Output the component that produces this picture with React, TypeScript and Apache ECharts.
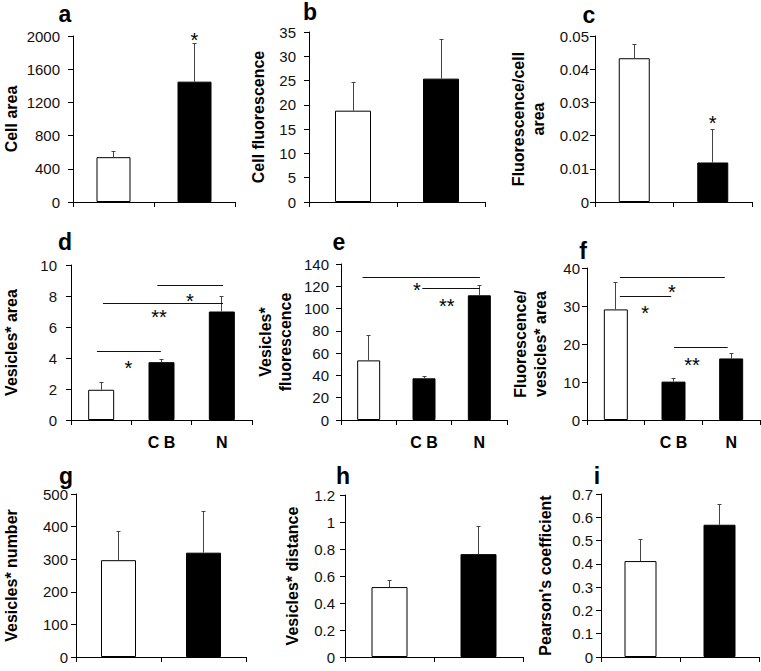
import React, { useEffect, useRef } from "react";
import * as echarts from "echarts";

// ---------- data ----------
const panelLetters = ["a", "b", "c", "d", "e", "f", "g", "h", "i"];
const yAxisNames = [
  "Cell area",
  "Cell fluorescence",
  "Fluorescence/cell\narea",
  "Vesicles* area",
  "Vesicles*\nfluorescence",
  "Fluorescence/\nvesicles* area",
  "Vesicles* number",
  "Vesicles* distance",
  "Pearson's coefficient",
];
const twoGroups = ["", ""];
const threeGroups = ["", "C B", "N"];

const cellAreaMean = [540, 1450];
const cellAreaSd = [65, 460];
const cellFluorMean = [18.8, 25.4];
const cellFluorSd = [5.8, 8.0];
const fluorPerAreaMean = [0.0433, 0.0119];
const fluorPerAreaSd = [0.004, 0.01];
const vesAreaMean = [1.95, 3.73, 7.0];
const vesAreaSd = [0.47, 0.2, 0.95];
const vesFluorMean = [53.5, 37.4, 111.9];
const vesFluorSd = [21.9, 1.8, 9.0];
const fluorPerVesAreaMean = [29.1, 10.1, 16.2];
const fluorPerVesAreaSd = [7.2, 0.95, 1.3];
const vesNumberMean = [297, 320];
const vesNumberSd = [87, 126];
const vesDistanceMean = [0.518, 0.762];
const vesDistanceSd = [0.052, 0.204];
const pearsonMean = [0.412, 0.568];
const pearsonSd = [0.094, 0.089];

const yMax = [2000, 35, 0.05, 10, 140, 40, 500, 1.2, 0.7];
const yInterval = [400, 5, 0.01, 2, 20, 10, 100, 0.2, 0.1];

// significance brackets: [fromCategory, toCategory, y]
const sigLinesD = [[-0.07, 0.99, 4.4], [0.03, 2.02, 7.5], [0.93, 2.02, 8.65]];
const sigLinesE = [[-0.11, 2.01, 128.3], [0.97, 2.01, 117.9]];
const sigLinesF = [[0.07, 1.89, 37.5], [0.07, 0.96, 32.4], [1.01, 1.94, 18.95]];
// significance marks: [category, y, text]
const sigMarksA: [number, number, string][] = [[1, 2016, "*"]];
const sigMarksC: [number, number, string][] = [[1, 0.0253, "*"]];
const sigMarksD: [number, number, string][] = [[0.45, 3.7, "*"], [0.96, 7.0, "**"], [1.47, 8.0, "*"]];
const sigMarksE: [number, number, string][] = [[0.87, 120.8, "*"], [1.41, 107, "**"]];
const sigMarksF: [number, number, string][] = [[0.97, 34.9, "*"], [0.51, 29.6, "*"], [1.32, 15.9, "**"]];

const panels = [
  { cats: twoGroups, mean: cellAreaMean, sd: cellAreaSd, lines: [], marks: sigMarksA },
  { cats: twoGroups, mean: cellFluorMean, sd: cellFluorSd, lines: [], marks: [] },
  { cats: twoGroups, mean: fluorPerAreaMean, sd: fluorPerAreaSd, lines: [], marks: sigMarksC },
  { cats: threeGroups, mean: vesAreaMean, sd: vesAreaSd, lines: sigLinesD, marks: sigMarksD },
  { cats: threeGroups, mean: vesFluorMean, sd: vesFluorSd, lines: sigLinesE, marks: sigMarksE },
  { cats: threeGroups, mean: fluorPerVesAreaMean, sd: fluorPerVesAreaSd, lines: sigLinesF, marks: sigMarksF },
  { cats: twoGroups, mean: vesNumberMean, sd: vesNumberSd, lines: [], marks: [] },
  { cats: twoGroups, mean: vesDistanceMean, sd: vesDistanceSd, lines: [], marks: [] },
  { cats: twoGroups, mean: pearsonMean, sd: pearsonSd, lines: [], marks: [] },
];

// ---------- layout ----------
const layouts = [
  { left: 65, top: 36, width: 170, height: 166, barWidth: 34, labelMargin: 13, nameGap: 52, letter: [65, 20] },
  { left: 309, top: 32, width: 176, height: 170, barWidth: 36, labelMargin: 13, nameGap: 41, letter: [310, 18] },
  { left: 595, top: 36, width: 157, height: 166, barWidth: 31, labelMargin: 6, nameGap: 47, letter: [589, 21] },
  { left: 63, top: 265, width: 189, height: 155, barWidth: 26, labelMargin: 14, nameGap: 50, letter: [65, 248] },
  { left: 341, top: 264, width: 166, height: 156, barWidth: 23, labelMargin: 12, nameGap: 46, letter: [339, 248] },
  { left: 587, top: 268, width: 173, height: 152, barWidth: 24, labelMargin: 7, nameGap: 37, letter: [583, 257] },
  { left: 69, top: 494, width: 177, height: 171, barWidth: 35, labelMargin: 8, nameGap: 55, letter: [66, 482] },
  { left: 345, top: 495, width: 178, height: 171, barWidth: 36, labelMargin: 10, nameGap: 43, letter: [343, 482] },
  { left: 601, top: 494, width: 158, height: 170, barWidth: 32, labelMargin: 8, nameGap: 46, letter: [597, 482] },
];

const FONT = "'Liberation Sans', Arial, Helvetica, sans-serif";
const crisp = (v: number) => Math.round(v - 0.5) + 0.5;
const fmt = (v: number) => String(parseFloat(Number(v).toPrecision(10)));

function buildOption() {
  const grid: any[] = [];
  const xAxis: any[] = [];
  const yAxis: any[] = [];
  const series: any[] = [];
  const graphic: any[] = [];

  panels.forEach((p, i) => {
    const L = layouts[i];
    const n = p.cats.length;
    grid.push({ left: L.left, top: L.top, width: L.width, height: L.height });
    xAxis.push({
      type: "category",
      gridIndex: i,
      data: p.cats,
      axisLine: { onZero: false, lineStyle: { color: "#000", width: 1 } },
      axisTick: { show: true, length: 5, lineStyle: { color: "#000" } },
      axisLabel: {
        show: true,
        interval: 0,
        margin: 14,
        fontFamily: FONT,
        fontSize: 16,
        fontWeight: "bold",
        color: "#000",
      },
      splitLine: { show: false },
    });
    xAxis.push({
      type: "value",
      gridIndex: i,
      show: false,
      min: -0.5,
      max: n - 0.5,
      axisLine: { onZero: false },
    });
    yAxis.push({
      type: "value",
      gridIndex: i,
      min: 0,
      max: yMax[i],
      interval: yInterval[i],
      name: yAxisNames[i],
      nameLocation: "middle",
      nameGap: L.nameGap,
      nameTextStyle: {
        fontFamily: FONT,
        fontSize: 16,
        fontWeight: "bold",
        color: "#000",
        lineHeight: 20,
        align: "center",
      },
      axisLine: { show: true, onZero: false, lineStyle: { color: "#000", width: 1 } },
      axisTick: { show: true, length: 5, lineStyle: { color: "#000" } },
      axisLabel: {
        margin: L.labelMargin,
        fontFamily: FONT,
        fontSize: 15,
        color: "#111",
        formatter: fmt,
      },
      splitLine: { show: false },
    });

    series.push({
      type: "bar",
      xAxisIndex: 2 * i,
      yAxisIndex: i,
      barWidth: L.barWidth,
      silent: true,
      data: p.mean.map((m, j) => ({
        value: m,
        itemStyle: { color: j === 0 ? "#fff" : "#000", borderColor: "#000", borderWidth: 1 },
      })),
    });

    // error bars
    series.push({
      type: "custom",
      xAxisIndex: 2 * i + 1,
      yAxisIndex: i,
      silent: true,
      z: 5,
      encode: { x: 0, y: [1, 2] },
      data: p.mean.map((m, j) => [j, m, m + p.sd[j]]),
      renderItem: (_params: any, api: any) => {
        const x = api.value(0);
        const p0 = api.coord([x, api.value(1)]);
        const p1 = api.coord([x, api.value(2)]);
        const cx = crisp(p0[0]);
        const ty = crisp(p1[1]);
        return {
          type: "group",
          children: [
            { type: "line", shape: { x1: cx, y1: p0[1], x2: cx, y2: ty }, style: { stroke: "#444", lineWidth: 1 } },
            { type: "line", shape: { x1: cx - 2, y1: ty, x2: cx + 2, y2: ty }, style: { stroke: "#444", lineWidth: 1 } },
          ],
        };
      },
    });

    if (p.lines.length) {
      series.push({
        type: "custom",
        xAxisIndex: 2 * i + 1,
        yAxisIndex: i,
        silent: true,
        z: 5,
        encode: { x: [0, 1], y: 2 },
        data: p.lines,
        renderItem: (_params: any, api: any) => {
          const a = api.coord([api.value(0), api.value(2)]);
          const b = api.coord([api.value(1), api.value(2)]);
          const y = crisp(a[1]);
          return { type: "line", shape: { x1: a[0], y1: y, x2: b[0], y2: y }, style: { stroke: "#111", lineWidth: 1 } };
        },
      });
    }

    if (p.marks.length) {
      const marks = p.marks;
      series.push({
        type: "custom",
        xAxisIndex: 2 * i + 1,
        yAxisIndex: i,
        silent: true,
        z: 6,
        encode: { x: 0, y: 1 },
        data: marks.map((m) => [m[0], m[1]]),
        renderItem: (params: any, api: any) => {
          const pt = api.coord([api.value(0), api.value(1)]);
          const fs = 20;
          return {
            type: "text",
            x: pt[0],
            y: pt[1] + fs * 0.25,
            style: {
              text: marks[params.dataIndex][2],
              fill: "#000",
              font: `${fs}px ${FONT}`,
              textAlign: "center",
              textVerticalAlign: "middle",
            },
          };
        },
      });
    }

    graphic.push({
      type: "text",
      x: L.letter[0],
      y: L.letter[1] + 5,
      style: {
        text: panelLetters[i],
        fill: "#000",
        font: `bold 23px ${FONT}`,
        textAlign: "center",
        textVerticalAlign: "bottom",
      },
    });
  });

  return { animation: false, backgroundColor: "#fff", grid, xAxis, yAxis, series, graphic };
}

export default function App() {
  const ref = useRef<HTMLDivElement>(null);
  useEffect(() => {
    if (!ref.current) return;
    const chart = echarts.init(ref.current, undefined, { renderer: "svg" });
    chart.setOption(buildOption() as any);
    return () => chart.dispose();
  }, []);
  return (
    <div
      ref={ref}
      style={{ position: "absolute", left: 0, top: 0, width: 761, height: 671, background: "#fff" }}
    />
  );
}
